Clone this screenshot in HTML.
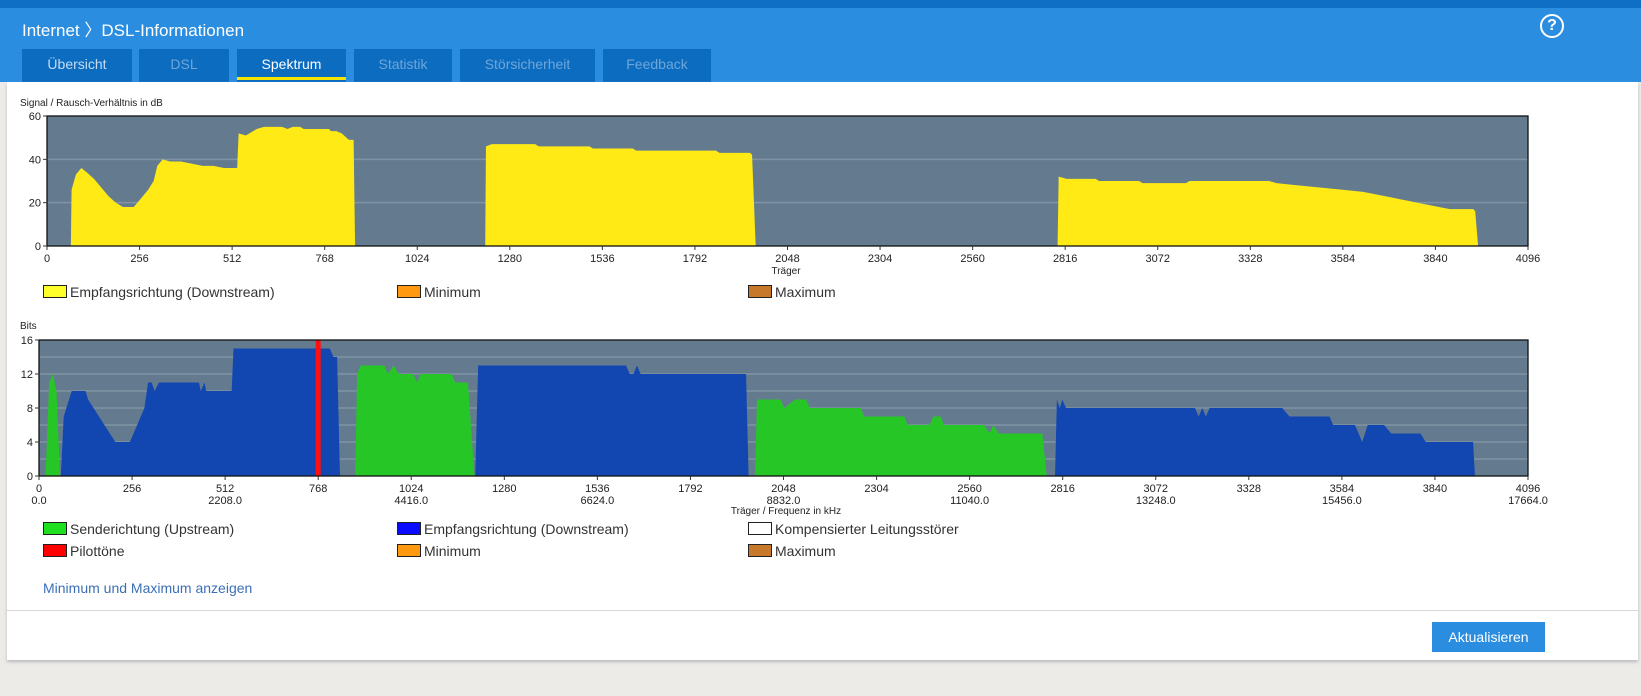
<!DOCTYPE html>
<html><head><meta charset="utf-8">
<style>
body{margin:0;width:1641px;height:696px;background:#ecebe8;font-family:"Liberation Sans",sans-serif;position:relative;overflow:hidden}
#hdr{position:absolute;left:0;top:0;width:1641px;height:82px;background:#2a8de0;border-top:8px solid #0e6fc4;box-sizing:border-box}
#title{position:absolute;left:22px;top:16px;color:#fff;font-size:17px}
.tab{position:absolute;top:49px;height:33px;background:#0c6cc0;color:#6fa6d8;font-size:14px;text-align:center;line-height:31px}
#help{position:absolute;left:1540px;top:14px;width:20px;height:20px;border:2px solid #fff;border-radius:50%;color:#fff;font-weight:bold;font-size:16px;text-align:center;line-height:20px}
#panel{position:absolute;left:7px;top:82px;width:1631px;height:578px;background:#fff;box-shadow:0 2px 3px #bbb}
#sep{position:absolute;left:7px;top:610px;width:1631px;height:1px;background:#d8d8d8}
#btn{position:absolute;left:1432px;top:622px;width:113px;height:30px;background:#2a8de0;color:#fff;font-size:14px;text-align:center;line-height:30px}
#link{position:absolute;left:43px;top:580px;color:#3b6fb6;font-size:14px}
svg text{font-family:"Liberation Sans",sans-serif}
</style></head><body>
<div id="hdr"></div>
<div id="title">Internet 〉DSL-Informationen</div>
<div id="help">?</div>
<div class="tab" style="left:22px;width:110px;color:#c5dcf2">Übersicht</div>
<div class="tab" style="left:139px;width:90px">DSL</div>
<div class="tab" style="left:237px;width:109px;color:#fff">Spektrum<div style="position:absolute;left:0;bottom:2px;width:109px;height:3px;background:#f2e600"></div></div>
<div class="tab" style="left:354px;width:98px">Statistik</div>
<div class="tab" style="left:460px;width:135px">Störsicherheit</div>
<div class="tab" style="left:603px;width:108px">Feedback</div>
<div id="panel"></div>
<div id="sep"></div>
<div id="link">Minimum und Maximum anzeigen</div>
<div id="btn">Aktualisieren</div>
<svg id="charts" width="1641" height="696" style="position:absolute;left:0;top:0"></svg>
<script>
// SNR chart data [carrier, dB]
const snrBlock1=[[66,0],[68,26],[80,33],[95,36],[110,34],[130,31],[150,27],[170,23],[190,20],[210,18],[240,18],[260,22],[280,26],[295,30],[305,37],[320,40],[340,39],[370,39],[400,38],[430,37],[460,37],[490,36],[526,36],[530,52],[550,51],[580,54],[600,55],[650,55],[665,54],[680,55],[700,55],[710,54],[780,54],[785,53],[800,53],[815,52],[835,49],[848,49],[852,0]];
const snrBlock2=[[1212,0],[1214,46],[1230,47],[1350,47],[1360,46],[1500,46],[1510,45],[1620,45],[1630,44],[1850,44],[1860,43],[1945,43],[1950,42],[1960,0]];
const snrBlock3=[[2795,0],[2798,32],[2820,31],[2900,31],[2910,30],[3020,30],[3030,29],[3150,29],[3160,30],[3380,30],[3400,29],[3460,28],[3520,27],[3580,26],[3640,25],[3700,23],[3760,21],[3820,19],[3880,17],[3945,17],[3950,16],[3958,0]];
const snrTicksY=[0,20,40,60];
const xTicks=[0,256,512,768,1024,1280,1536,1792,2048,2304,2560,2816,3072,3328,3584,3840,4096];
const freqLabels=["0.0","2208.0","4416.0","6624.0","8832.0","11040.0","13248.0","15456.0","17664.0"];
// Bits chart data [carrier, bits]
const upBlock1=[[18,0],[28,11],[38,12],[48,10],[58,0]];
const upBlock2=[[870,0],[875,12],[885,13],[950,13],[960,12],[975,13],[990,12],[1030,12],[1040,11],[1050,12],[1135,12],[1145,11],[1180,11],[1198,0]];
const upBlock3=[[1970,0],[1975,9],[2000,9],[2040,9],[2050,8],[2080,9],[2110,9],[2120,8],[2260,8],[2270,7],[2380,7],[2390,6],[2450,6],[2460,7],[2480,7],[2490,6],[2600,6],[2615,5],[2625,6],[2640,5],[2760,5],[2772,0]];
const downBlock1=[[60,0],[68,7],[90,10],[128,10],[135,9],[150,8],[165,7],[180,6],[195,5],[210,4],[250,4],[270,6],[290,8],[300,11],[310,11],[318,10],[330,11],[440,11],[445,10],[455,11],[460,10],[530,10],[535,15],[800,15],[810,14],[820,14],[828,0]];
const downBlock2=[[1200,0],[1208,13],[1615,13],[1625,12],[1635,12],[1645,13],[1655,12],[1945,12],[1952,0]];
const downBlock3=[[2795,0],[2800,9],[2808,8],[2815,9],[2825,8],[3180,8],[3190,7],[3200,8],[3210,7],[3220,8],[3420,8],[3440,7],[3550,7],[3560,6],[3620,6],[3640,4],[3655,6],[3700,6],[3720,5],[3800,5],[3815,4],[3945,4],[3950,0]];
const pilotTones=[768];
const bitsTicksY=[0,4,8,12,16];

const svg=document.getElementById('charts');
const NS='http://www.w3.org/2000/svg';
function mk(t,a){const e=document.createElementNS(NS,t);for(const k in a)e.setAttribute(k,a[k]);svg.appendChild(e);return e;}
function txt(x,y,s,size,anchor,fill){const e=mk('text',{x:x,y:y,'font-size':size,'text-anchor':anchor||'start',fill:fill||'#222'});e.textContent=s;return e;}

function chart(cfg){
  const sx=c=>cfg.x0+(c/4096)*(cfg.x1-cfg.x0);
  const sy=v=>cfg.y1-(v/cfg.ymax)*(cfg.y1-cfg.y0);
  const bg=mk('rect',{x:cfg.x0,y:cfg.y0,width:cfg.x1-cfg.x0,height:cfg.y1-cfg.y0,fill:'#647b8f'});
  
  
  for(let v=cfg.grid;v<cfg.ymax;v+=cfg.grid){mk('line',{x1:cfg.x0,x2:cfg.x1,y1:sy(v),y2:sy(v),stroke:'#7f93a4','stroke-width':1.5});}
  cfg.series.forEach(s=>{s.blocks.forEach(b=>{
    const p=mk('polygon',{points:b.map(d=>sx(d[0])+','+sy(d[1])).join(' '),fill:s.color});
    
    
  });});
  (cfg.pilots||[]).forEach(c=>{
    const r=mk('rect',{x:sx(c)-2.5,y:cfg.y0,width:5,height:cfg.y1-cfg.y0,fill:'#ff1010'});
    
    
  });
  mk('rect',{x:cfg.x0,y:cfg.y0,width:cfg.x1-cfg.x0,height:cfg.y1-cfg.y0,fill:'none',stroke:'#111','stroke-width':1.3});
  cfg.yt.forEach(v=>{mk('line',{x1:cfg.x0-4,x2:cfg.x0,y1:sy(v),y2:sy(v),stroke:'#333'});
    const t=txt(cfg.x0-6,sy(v)+4,String(v),11,'end');
    
    });
  xTicks.forEach((c,i)=>{mk('line',{x1:sx(c),x2:sx(c),y1:cfg.y1,y2:cfg.y1+4,stroke:'#333'});
    const t=txt(sx(c),cfg.y1+16,String(c),11,'middle');
    
    
    if(cfg.freq && i%2===0){const f=txt(sx(c),cfg.y1+28,freqLabels[i/2],11,'middle');
      
      }
  });
}
chart({name:'snr',x0:47,x1:1528,y0:116,y1:246,ymax:60,grid:20,yt:snrTicksY,
  series:[{name:'snr-downstream-area',color:'#ffea16',blocks:[snrBlock1,snrBlock2,snrBlock3]}]});
chart({name:'bits',x0:39,x1:1528,y0:340,y1:476,ymax:16,grid:2,yt:bitsTicksY,freq:true,pilots:pilotTones,
  series:[{name:'bits-upstream-area',color:'#26c626',blocks:[upBlock1,upBlock2,upBlock3]},
          {name:'bits-downstream-area',color:'#1247b2',blocks:[downBlock1,downBlock2,downBlock3]}]});

let t;
t=txt(20,106,'Signal / Rausch-Verhältnis in dB',10);


t=txt(786,274,'Träger',10,'middle');


t=txt(20,329,'Bits',10);


t=txt(786,514,'Träger / Frequenz in kHz',10,'middle');



const legends=[[43,285,'#ffff2a','Empfangsrichtung (Downstream)'],[397,285,'#ff9a10','Minimum'],[748,285,'#c8782a','Maximum'],
 [43,522,'#1ee01e','Senderichtung (Upstream)'],[397,522,'#0a0aff','Empfangsrichtung (Downstream)'],[748,522,'#ffffff','Kompensierter Leitungsstörer'],
 [43,544,'#ff0000','Pilottöne'],[397,544,'#ff9a10','Minimum'],[748,544,'#c8782a','Maximum']];
legends.forEach(l=>{
  const r=mk('rect',{x:l[0]+0.5,y:l[1]+0.5,width:23,height:12,fill:l[2],stroke:'#222'});
  
  
  const e=txt(l[0]+27,l[1]+12,l[3],14,'start','#333');
  
  
});
</script>
</body></html>
